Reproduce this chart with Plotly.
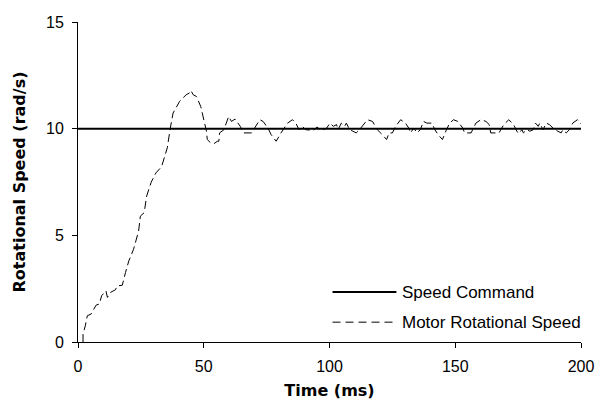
import plotly.graph_objects as go

# ---- data ----
command_time_ms = [0, 200]
command_speed = [10, 10]

motor_time_ms = [2.0, 2.0, 2.9, 3.7, 5.2, 7.2, 8.5, 9.4, 11.1, 11.7, 13.0, 14.9, 15.6, 17.6,
                 18.9, 20.2, 22.1, 24.1, 24.8, 26.3, 27.3, 29.1, 31.0, 33.2, 34.5, 35.5, 36.7,
                 37.8, 40.4, 43.0, 44.3, 44.9, 45.8, 47.1, 48.8, 50.2, 51.1, 51.4, 52.8, 54.1,
                 55.4, 56.0, 56.3, 58.0, 59.9, 61.0, 62.5, 64.5, 65.8, 69.0, 72.3, 73.6, 75.5,
                 76.8, 78.8, 80.7, 83.3, 85.3, 86.6, 87.9, 89.2, 90.5, 93.7, 95.0, 96.3, 97.6,
                 98.9, 100.2, 101.5, 102.8, 103.4, 104.7, 106.0, 106.7, 108.0, 109.3, 110.6,
                 111.9, 113.8, 115.1, 117.1, 119.0, 121.0, 122.7, 123.7, 125.0, 126.3, 128.3,
                 130.2, 131.5, 132.2, 133.5, 134.8, 136.1, 137.4, 138.7, 140.7, 141.9, 143.2,
                 144.9, 146.5, 147.8, 149.3, 151.0, 153.0, 153.7, 156.3, 158.2, 160.2, 162.2,
                 163.5, 164.1, 167.4, 169.3, 171.3, 173.2, 174.5, 175.2, 176.5, 177.1, 178.4,
                 179.7, 181.0, 181.9, 183.0, 183.6, 184.9, 186.2, 187.5, 188.2, 189.5, 190.8,
                 192.1, 192.8, 194.1, 195.4, 196.7, 198.6, 199.9, 200.3]
motor_speed = [0.0, 0.37, 0.76, 1.23, 1.31, 1.73, 1.78, 2.17, 2.40, 2.09, 2.33, 2.45, 2.63, 2.66,
               3.26, 3.80, 4.35, 5.20, 5.90, 6.06, 6.84, 7.49, 7.93, 8.21, 8.71, 9.10, 10.03,
               10.73, 11.28, 11.59, 11.67, 11.79, 11.59, 11.51, 11.04, 10.34, 9.87, 9.49, 9.33, 9.30,
               9.41, 9.41, 9.80, 9.95, 10.57, 10.34, 10.45, 10.11, 9.80, 9.80, 10.42, 10.34, 10.03,
               9.72, 9.41, 9.80, 10.26, 10.42, 10.26, 9.95, 10.11, 9.95, 9.92, 10.08, 9.95, 9.95,
               10.03, 10.26, 10.11, 10.19, 9.95, 10.26, 10.11, 10.26, 9.95, 9.88, 9.80,
               9.95, 10.26, 10.42, 10.34, 9.95, 9.72, 9.49, 9.80, 9.80, 10.11, 10.42,
               10.26, 10.03, 9.80, 10.03, 9.80, 9.95, 10.34, 10.26, 10.26, 9.95, 9.72,
               9.49, 9.95, 10.26, 10.42, 10.34, 10.03, 9.80, 9.80, 10.26, 10.42, 10.34,
               10.19, 9.80, 9.80, 10.19, 10.42, 10.19, 9.88, 9.77, 9.95, 9.80, 9.95,
               9.88, 9.95, 10.26, 10.11, 10.26, 9.95, 10.26, 10.19, 10.11, 9.95, 9.88,
               9.80, 9.95, 9.80, 9.95, 10.26, 10.42, 10.26, 10.19]

x_ticks = [0, 50, 100, 150, 200]
y_ticks = [0, 5, 10, 15]

series_names = ["Speed Command", "Motor Rotational Speed"]

FONT = "Liberation Sans, Arial, sans-serif"
TITLE_FONT = "DejaVu Sans, Liberation Sans, sans-serif"

fig = go.Figure()
fig.add_trace(go.Scatter(x=command_time_ms, y=command_speed, mode="lines",
                         name=series_names[0], line=dict(color="black", width=2),
                         showlegend=False))
fig.add_trace(go.Scatter(x=motor_time_ms, y=motor_speed, mode="lines",
                         name=series_names[1],
                         line=dict(color="black", width=1, dash="8px,4px"),
                         showlegend=False))

# legend drawn manually (long sample lines like the original)
legend_rows = [(0.156, "solid", 2), (0.062, "8px,5px", 1)]
for (yp, dash, w), name in zip(legend_rows, series_names):
    fig.add_shape(type="line", xref="paper", yref="paper", x0=0.506, x1=0.633,
                  y0=yp, y1=yp, line=dict(color="black", width=w, dash=dash))
    fig.add_annotation(xref="paper", yref="paper", x=0.641, y=yp, text=name,
                       showarrow=False, xanchor="left", yanchor="middle",
                       font=dict(family=FONT, size=17, color="black"))

axis_common = dict(showgrid=False, zeroline=False, showline=True, linecolor="black",
                   linewidth=1, ticks="outside", ticklen=5, tickcolor="black",
                   ticklabelstandoff=5,
                   tickfont=dict(family=FONT, size=16, color="black"))

fig.update_xaxes(range=[0, 200], tickvals=x_ticks,
                 title=dict(text="<b>Time (ms)</b>", standoff=10,
                            font=dict(family=TITLE_FONT, size=16, color="black")),
                 **axis_common)
fig.update_yaxes(range=[0, 15], tickvals=y_ticks,
                 title=dict(text="<b>Rotational Speed (rad/s)</b>", standoff=16,
                            font=dict(family=TITLE_FONT, size=16, color="black")),
                 **axis_common)

fig.update_layout(width=606, height=408, margin=dict(l=78, r=16, t=22, b=65),
                  plot_bgcolor="white", paper_bgcolor="white",
                  font=dict(family=FONT, color="black"))

fig.write_html("out.html")
